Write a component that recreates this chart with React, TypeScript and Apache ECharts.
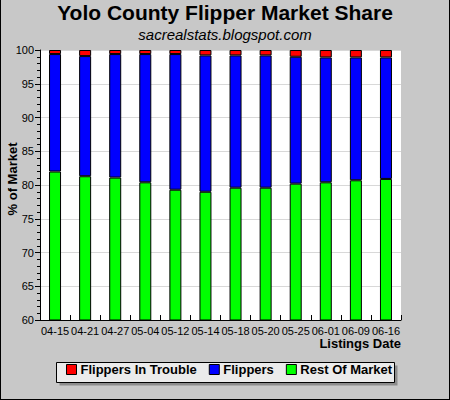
import React, { useEffect, useRef } from "react";
import * as echarts from "echarts";

const categories = ["04-15", "04-21", "04-27", "05-04", "05-12", "05-14", "05-18", "05-20", "05-25", "06-01", "06-09", "06-16"];
const restOfMarket = [82.0, 81.3, 81.1, 80.4, 79.3, 79.0, 79.6, 79.6, 80.2, 80.4, 80.7, 80.9];
const flippers = [17.4, 17.8, 18.3, 19.0, 20.1, 20.2, 19.6, 19.6, 18.8, 18.5, 18.2, 18.0];
const flippersInTrouble = [0.6, 0.9, 0.6, 0.6, 0.6, 0.8, 0.8, 0.8, 1.0, 1.1, 1.1, 1.1];
const seriesNames = ["Flippers In Trouble", "Flippers", "Rest Of Market"];
const titleText = "Yolo County Flipper Market Share";
const subtitleText = "sacrealstats.blogspot.com";

const FONT = "'Liberation Sans', Arial, sans-serif";

export default function App() {
  const ref = useRef<HTMLDivElement>(null);
  useEffect(() => {
    if (!ref.current) return;
    const chart = echarts.init(ref.current, null, { renderer: "svg" });
    const barStyle = (color: string) => ({ color, borderColor: "#000", borderWidth: 1 });
    chart.setOption({
      animation: false,
      backgroundColor: "#c8c8c8",
      textStyle: { fontFamily: FONT },
      grid: { left: 40, top: 50, right: 49, bottom: 80, show: true, backgroundColor: "#fff", borderWidth: 0 },
      legend: {
        data: seriesNames,
        left: 66,
        top: 363,
        padding: 0,
        itemWidth: 10,
        itemHeight: 10,
        itemGap: 12,
        icon: "rect",
        itemStyle: { borderColor: "#000", borderWidth: 1 },
        textStyle: { fontFamily: FONT, fontSize: 13, fontWeight: "bold", color: "#000", padding: [0, 0, 0, -1] },
        selectedMode: false,
      },
      xAxis: {
        type: "category",
        data: categories,
        axisLine: { lineStyle: { color: "#000", width: 1 } },
        axisTick: { show: true, inside: true, length: 5, interval: 0, alignWithLabel: false, lineStyle: { color: "#000" } },
        axisLabel: { interval: 0, fontSize: 11, color: "#000", margin: 5, fontFamily: FONT },
        splitLine: { show: false },
      },
      yAxis: {
        type: "value",
        min: 60,
        max: 100,
        interval: 5,
        axisLine: { show: true, lineStyle: { color: "#000", width: 1 } },
        axisTick: { show: true, length: 5, lineStyle: { color: "#000" } },
        minorTick: { show: true, splitNumber: 5, length: 3, lineStyle: { color: "#000" } },
        axisLabel: { fontSize: 11, color: "#000", margin: 6, fontFamily: FONT },
        splitLine: { show: true, lineStyle: { color: "#d8d8d8", width: 1 } },
      },
      series: [
        { name: "Rest Of Market", type: "bar", stack: "s", data: restOfMarket, barWidth: 12, itemStyle: barStyle("#00ff00") },
        { name: "Flippers", type: "bar", stack: "s", data: flippers, barWidth: 12, itemStyle: barStyle("#0000ff") },
        { name: "Flippers In Trouble", type: "bar", stack: "s", data: flippersInTrouble, barWidth: 12, itemStyle: barStyle("#ff0000") },
      ],
      graphic: [
        { type: "line", shape: { x1: 0.5, y1: 0, x2: 0.5, y2: 400 }, style: { stroke: "#000", lineWidth: 1 }, z: 100 },
        { type: "line", shape: { x1: 449.5, y1: 0, x2: 449.5, y2: 400 }, style: { stroke: "#000", lineWidth: 1 }, z: 100 },
        { type: "line", shape: { x1: 0, y1: 399.5, x2: 450, y2: 399.5 }, style: { stroke: "#000", lineWidth: 1 }, z: 100 },
        { type: "rect", shape: { x: 59.5, y: 365.5, width: 338, height: 20 }, style: { fill: "#8c8c8c" }, z: -10, silent: true },
        { type: "rect", shape: { x: 56.5, y: 362.5, width: 338, height: 20 }, style: { fill: "#ebebeb", stroke: "#000", lineWidth: 1 }, z: -9, silent: true },
        {
          type: "text", x: 225, y: 12,
          style: { text: titleText, fill: "#000", font: `bold 21px ${FONT}`, textAlign: "center", textVerticalAlign: "middle" },
        },
        {
          type: "text", x: 225, y: 34,
          style: { text: subtitleText, fill: "#000", font: `italic 15px ${FONT}`, textAlign: "center", textVerticalAlign: "middle" },
        },
        {
          type: "text", x: 12, y: 179, rotation: Math.PI / 2,
          style: { text: "% of Market", fill: "#000", font: `bold 13px ${FONT}`, textAlign: "center", textVerticalAlign: "middle" },
        },
        {
          type: "text", x: 401, y: 343,
          style: { text: "Listings Date", fill: "#000", font: `bold 13px ${FONT}`, textAlign: "right", textVerticalAlign: "middle" },
        },
      ],
    });
    return () => chart.dispose();
  }, []);
  return <div ref={ref} style={{ position: "absolute", left: 0, top: 0, width: 450, height: 400 }} />;
}
